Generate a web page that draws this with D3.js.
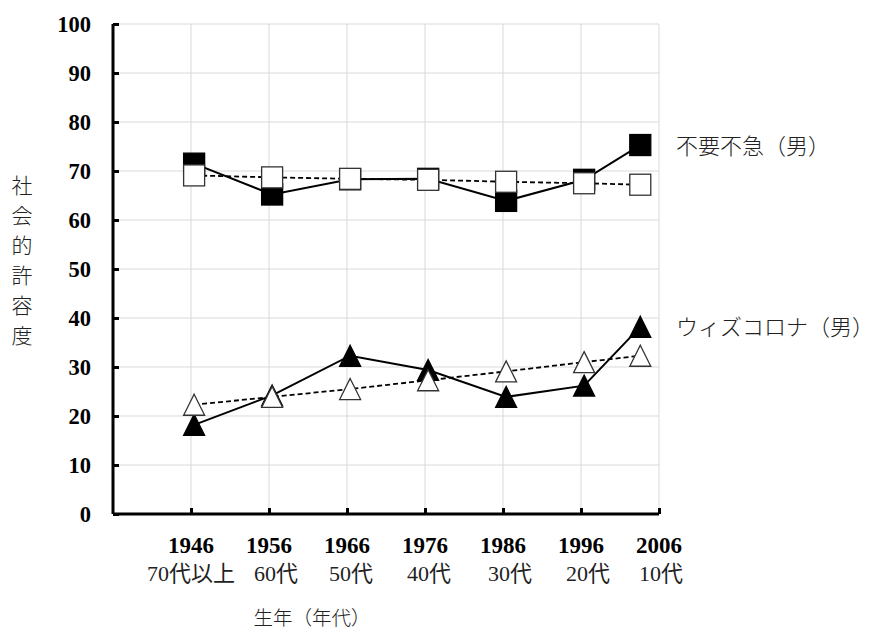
<!DOCTYPE html>
<html><head><meta charset="utf-8">
<script src="https://cdn.jsdelivr.net/npm/d3@7"></script>
<style>
html,body{margin:0;padding:0;background:#fff;}
svg{display:block;}
</style>
</head><body>
<svg id="chart" width="875" height="631"></svg>
<script>
// ---- data ----
const birthYears = [1946.4, 1956.4, 1966.4, 1976.4, 1986.4, 1996.4, 2003.6];
const yearTicks = [1946, 1956, 1966, 1976, 1986, 1996, 2006];
const ageLabels = ["70代以上", "60代", "50代", "40代", "30代", "20代", "10代"];
const yTicks = [0, 10, 20, 30, 40, 50, 60, 70, 80, 90, 100];
const fuyouFukyu = [71.5, 65.2, 68.3, 68.4, 63.9, 68.2, 75.3];       // filled squares
const fuyouFukyuTrend = [69.1, 68.7, 68.4, 68.2, 67.8, 67.5, 67.2];  // open squares
const withCorona = [18.2, 24.2, 32.3, 29.4, 23.9, 26.2, 38.2];       // filled triangles
const withCoronaTrend = [22.3, 23.9, 25.5, 27.3, 29.1, 31.0, 32.3];  // open triangles
const seriesLabels = ["不要不急（男）", "ウィズコロナ（男）"];
const yTitle = "社会的許容度";
const xTitle = "生年（年代）";

(function () {
// ---- layout ----
const svg = d3.select("#chart");
const pL = 113, pR = 659, pT = 24, pB = 514;
const x = d3.scaleLinear().domain([1936, 2006]).range([pL, pR]);
const y = d3.scaleLinear().domain([0, 100]).range([pB, pT]);
const numFont = "'Liberation Serif', 'Times New Roman', serif";
const jpFont = "'Noto Sans CJK JP', 'Noto Sans', sans-serif";

// grid
const grid = svg.append("g");
grid.selectAll("line.h").data(yTicks.filter(d => d > 0)).enter().append("line")
  .attr("x1", pL).attr("x2", pR).attr("y1", d => y(d)).attr("y2", d => y(d))
  .attr("stroke", "#d9d9d9").attr("stroke-width", 1);
grid.selectAll("line.v").data(yearTicks).enter().append("line")
  .attr("x1", d => x(d)).attr("x2", d => x(d)).attr("y1", pT).attr("y2", pB)
  .attr("stroke", "#d9d9d9").attr("stroke-width", 1);

// axes
const yAxis = svg.append("g").attr("transform", `translate(${pL},0)`)
  .call(d3.axisRight(y).tickValues(yTicks).tickSize(6).tickFormat(""));
yAxis.select(".domain").attr("stroke", "#000").attr("stroke-width", 3)
  .attr("d", `M0,${pT}V${pB}`);
yAxis.selectAll(".tick line").attr("stroke", "#000").attr("stroke-width", 3);

const xAxis = svg.append("g").attr("transform", `translate(0,${pB})`)
  .call(d3.axisTop(x).tickValues(yearTicks).tickSize(6).tickFormat(""));
xAxis.select(".domain").attr("stroke", "#000").attr("stroke-width", 3)
  .attr("d", `M${pL},0H${pR}`);
xAxis.selectAll(".tick line").attr("stroke", "#000").attr("stroke-width", 3);

// y tick labels
svg.append("g").selectAll("text").data(yTicks).enter().append("text")
  .attr("x", 91).attr("y", d => y(d)).attr("dy", "0.35em")
  .attr("text-anchor", "end").attr("font-family", numFont).attr("font-weight", "bold")
  .attr("font-size", 22.5).text(d => d);

// x tick labels
svg.append("g").selectAll("text").data(yearTicks).enter().append("text")
  .attr("x", d => x(d)).attr("y", 553)
  .attr("text-anchor", "middle").attr("font-family", numFont).attr("font-weight", "bold")
  .attr("font-size", 23).text(d => d);

const ageOffsets = [0, 7, 4, 4, 7, 7, 2];
svg.append("g").selectAll("text").data(ageLabels).enter().append("text")
  .attr("x", (d, i) => x(yearTicks[i]) + ageOffsets[i]).attr("y", 581)
  .attr("text-anchor", "middle").attr("font-family", numFont + ", " + jpFont)
  .attr("font-size", 22).attr("fill", "#222").text(d => d);

// titles
const yt = svg.append("g");
yt.selectAll("text").data(Array.from(yTitle)).enter().append("text")
  .attr("x", 22).attr("y", (d, i) => 186 + i * 30).attr("dy", "0.35em")
  .attr("text-anchor", "middle").attr("font-family", jpFont).attr("font-size", 21)
  .attr("font-weight", 300).attr("fill", "#222").text(d => d);
svg.append("text").attr("x", 312).attr("y", 618).attr("dy", "0.35em").attr("text-anchor", "middle")
  .attr("font-family", jpFont).attr("font-size", 19.5).attr("font-weight", 300)
  .attr("fill", "#222").text(xTitle);

// series labels
svg.append("text").attr("x", 676).attr("y", 146).attr("dy", "0.35em")
  .attr("font-family", jpFont).attr("font-size", 22).attr("font-weight", 300)
  .attr("fill", "#222").text(seriesLabels[0]);
svg.append("text").attr("x", 676).attr("y", 327).attr("dy", "0.35em")
  .attr("font-family", jpFont).attr("font-size", 22).attr("font-weight", 300)
  .attr("fill", "#222").text(seriesLabels[1]);

// lines
const line = d3.line().x((d, i) => x(birthYears[i])).y(d => y(d));
function drawLine(vals, dashed) {
  svg.append("path").attr("d", line(vals)).attr("fill", "none")
    .attr("stroke", "#000").attr("stroke-width", dashed ? 1.8 : 2)
    .attr("stroke-dasharray", dashed ? "5,3" : null);
}
drawLine(fuyouFukyu, false);
drawLine(withCorona, false);
drawLine(fuyouFukyuTrend, true);
drawLine(withCoronaTrend, true);

// markers
const S = 21;
function squares(vals, fill, stroke) {
  svg.append("g").selectAll("rect").data(vals).enter().append("rect")
    .attr("x", (d, i) => x(birthYears[i]) - S / 2).attr("y", d => y(d) - S / 2)
    .attr("width", S).attr("height", S).attr("fill", fill)
    .attr("stroke", stroke).attr("stroke-width", 1.3);
}
function triangles(vals, fill, stroke) {
  svg.append("g").selectAll("path").data(vals).enter().append("path")
    .attr("d", (d, i) => {
      const cx = x(birthYears[i]), cy = y(d);
      return `M${cx},${cy - S / 2}L${cx + S / 2},${cy + S / 2}L${cx - S / 2},${cy + S / 2}Z`;
    })
    .attr("fill", fill).attr("stroke", stroke).attr("stroke-width", 1.3);
}
squares(fuyouFukyu, "#000", "#000");
triangles(withCorona, "#000", "#000");
squares(fuyouFukyuTrend, "#fff", "#333");
triangles(withCoronaTrend, "#fff", "#333");
})();
</script>
</body></html>
